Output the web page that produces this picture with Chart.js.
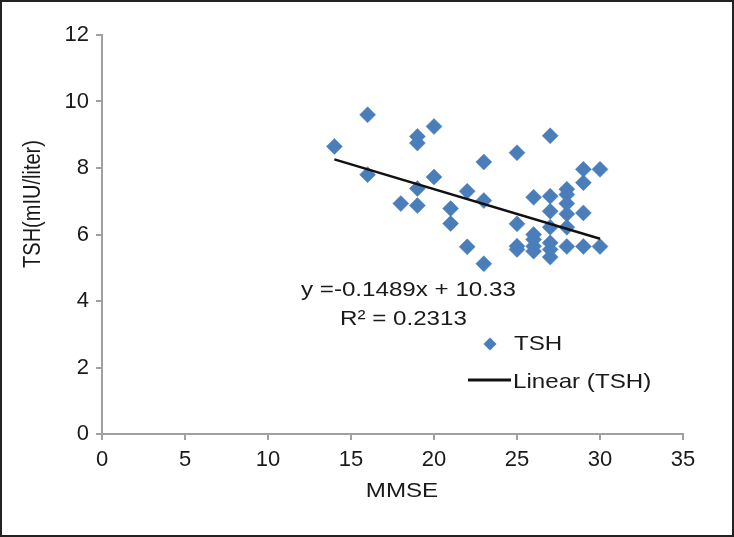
<!DOCTYPE html>
<html>
<head>
<meta charset="utf-8">
<script src="https://cdn.jsdelivr.net/npm/chart.js@4"></script>
<style>
  body { margin: 0; background: #fff; }
  canvas { display: block; }
</style>
</head>
<body>
<canvas id="tshChart" width="734" height="537"></canvas>
<script>
// MMSE score of each patient and the matching TSH reading
var mmse = [14, 16, 16, 18, 19, 19, 19, 19, 20, 20, 21, 21, 22, 22, 23, 23, 23,
  25, 25, 25, 25, 26, 26, 26, 26, 26, 27, 27, 27, 27, 27, 27, 27,
  28, 28, 28, 28, 28, 28, 29, 29, 29, 29, 30, 30]
var tsh = [8.65, 9.6, 7.8, 6.93, 8.95, 8.75, 7.38, 6.87, 9.25, 7.73, 6.78, 6.33, 7.3, 5.63, 8.18, 7.02, 5.12,
  8.46, 6.32, 5.65, 5.55, 7.12, 6.0, 5.85, 5.65, 5.5, 8.97, 7.15, 6.7, 6.22, 5.75, 5.55, 5.32,
  7.36, 7.2, 6.93, 6.62, 6.22, 5.64, 7.96, 7.56, 6.65, 5.64, 7.96, 5.64]

// linear trend line ends, as drawn
var trendX = [14, 30]
var trendY = [8.26, 5.87]

var xTicks = [0, 5, 10, 15, 20, 25, 30, 35]
var yTicks = [0, 2, 4, 6, 8, 10, 12]

var equationText = 'y =-0.1489x + 10.33'
var r2Text = 'R\u00b2 = 0.2313'

var pointColor = '#4A7EBB'
var axisColor = '#a0a0a0'
var textColor = '#1a1a1a'
var stretch = 1.15 // text in the picture is a bit wider than tall

function stretchedText(ctx, text, x, y, align) {
  ctx.save()
  ctx.translate(x, y)
  ctx.scale(stretch, 1)
  ctx.textAlign = align
  ctx.fillText(text, 0, 0)
  ctx.restore()
}

var extrasPlugin = {
  id: 'extras',
  afterDraw: function (chart) {
    var ctx = chart.ctx
    ctx.save()
    ctx.fillStyle = textColor
    ctx.textBaseline = 'alphabetic'
    ctx.font = '21px "Liberation Sans", Arial, sans-serif'

    // trend equation
    stretchedText(ctx, equationText, 301, 296, 'left')
    stretchedText(ctx, r2Text, 340, 325, 'left')

    // legend
    ctx.fillStyle = pointColor
    ctx.beginPath()
    ctx.moveTo(490 - 6.5, 344)
    ctx.lineTo(490, 344 - 6.5)
    ctx.lineTo(490 + 6.5, 344)
    ctx.lineTo(490, 344 + 6.5)
    ctx.closePath()
    ctx.fill()
    ctx.fillStyle = textColor
    stretchedText(ctx, 'TSH', 514, 350, 'left')

    ctx.strokeStyle = '#111'
    ctx.lineWidth = 3
    ctx.beginPath()
    ctx.moveTo(468, 380)
    ctx.lineTo(511, 380)
    ctx.stroke()
    stretchedText(ctx, 'Linear (TSH)', 513, 388, 'left')

    // axis titles
    stretchedText(ctx, 'MMSE', 402, 497, 'center')

    ctx.font = '20px "Liberation Sans", Arial, sans-serif'
    ctx.save()
    ctx.translate(40, 204)
    ctx.scale(stretch, 1)
    ctx.rotate(-Math.PI / 2)
    ctx.textAlign = 'center'
    ctx.fillText('TSH(mIU/liter)', 0, 0)
    ctx.restore()

    // picture frame
    ctx.strokeStyle = '#222'
    ctx.lineWidth = 2
    ctx.strokeRect(1, 1, chart.width - 2, chart.height - 2)
    ctx.restore()
  },
}

var points = mmse.map(function (m, i) {
  return { x: m, y: tsh[i] }
})
var trend = trendX.map(function (t, i) {
  return { x: t, y: trendY[i] }
})

var tickFont = { family: '"Liberation Sans", Arial, sans-serif', size: 22 }

new Chart(document.getElementById('tshChart'), {
  type: 'scatter',
  data: {
    datasets: [
      {
        label: 'TSH',
        data: points,
        pointStyle: 'rectRot',
        pointRadius: 8,
        backgroundColor: pointColor,
        borderColor: pointColor,
        borderWidth: 0.5,
        order: 2,
      },
      {
        label: 'Linear (TSH)',
        data: trend,
        showLine: true,
        borderColor: '#111',
        borderWidth: 2.5,
        pointRadius: 0,
        order: 1,
      },
    ],
  },
  options: {
    responsive: false,
    animation: false,
    devicePixelRatio: 1,
    events: [],
    layout: { padding: { left: 22, right: 51, top: 35, bottom: 43 } },
    plugins: {
      legend: { display: false },
      tooltip: { enabled: false },
    },
    scales: {
      x: {
        type: 'linear',
        min: 0,
        max: 35,
        afterFit: function (scale) {
          scale.height = 60
        },
        afterBuildTicks: function (scale) {
          scale.ticks = xTicks.map(function (v) {
            return { value: v }
          })
        },
        border: { color: axisColor, width: 2 },
        grid: { drawOnChartArea: false, color: axisColor, lineWidth: 2, tickLength: 6 },
        ticks: { color: textColor, font: tickFont, padding: 7, maxRotation: 0 },
      },
      y: {
        type: 'linear',
        min: 0,
        max: 12,
        afterFit: function (scale) {
          scale.width = 80
        },
        afterBuildTicks: function (scale) {
          scale.ticks = yTicks.map(function (v) {
            return { value: v }
          })
        },
        border: { color: axisColor, width: 2 },
        grid: { drawOnChartArea: false, color: axisColor, lineWidth: 2, tickLength: 6 },
        ticks: { color: textColor, font: tickFont, padding: 7 },
      },
    },
  },
  plugins: [extrasPlugin],
})
</script>
</body>
</html>
